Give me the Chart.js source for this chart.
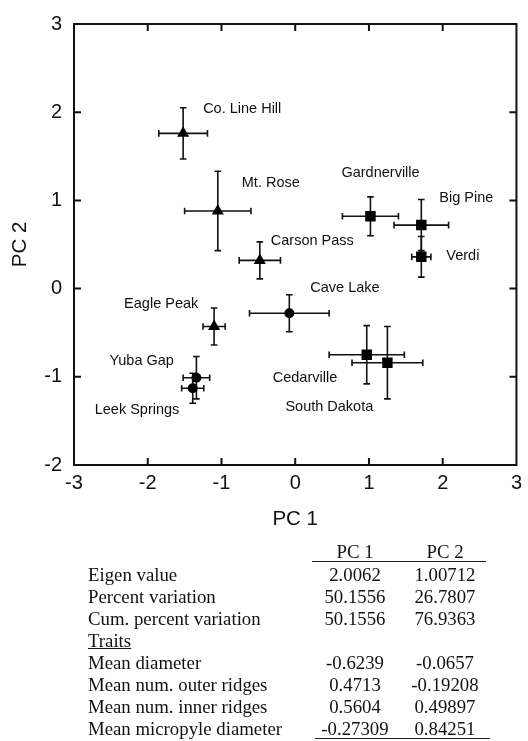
<!DOCTYPE html>
<html>
<head>
<meta charset="utf-8">
<script src="https://cdn.jsdelivr.net/npm/chart.js@4.4.1/dist/chart.umd.min.js"></script>
<style>
  html, body { margin: 0; padding: 0; background: #fff; }
  #page { position: relative; width: 528px; height: 741px; overflow: hidden; }
  #plot { position: absolute; left: 0; top: 0; }
  .row { position: absolute; left: 0; width: 528px; height: 22px; line-height: 22px;
         font-family: "Liberation Serif", "Times New Roman", serif; font-size: 18.8px; color: #111; }
  .row span { position: absolute; top: 0; white-space: nowrap; }
  .name { left: 88px; }
  .c1 { left: 305px; width: 100px; text-align: center; }
  .c2 { left: 395px; width: 100px; text-align: center; }
  .rule { position: absolute; height: 0; border-top: 1px solid #222; }
</style>
</head>
<body>
<div id="page">
  <canvas id="plot" width="528" height="545"></canvas>
  <div id="table"></div>
</div>
<script>
// Участки (популяции) и их координаты на главных компонентах
const sites = ["Co. Line Hill", "Mt. Rose", "Carson Pass", "Eagle Peak",
  "Gardnerville", "Big Pine", "Verdi", "Cedarville", "South Dakota",
  "Cave Lake", "Yuba Gap", "Leek Springs"];
const siteGroup = ["A", "A", "A", "A", "B", "B", "B", "B", "B", "C", "C", "C"];
const pc1 = [-1.52, -1.05, -0.48, -1.10, 1.02, 1.71, 1.71, 0.97, 1.25, -0.08, -1.34, -1.39];
const pc2 = [1.76, 0.88, 0.32, -0.43, 0.82, 0.72, 0.36, -0.75, -0.84, -0.28, -1.01, -1.13];
const pc1Err = [0.33, 0.45, 0.28, 0.15, 0.38, 0.37, 0.13, 0.51, 0.48, 0.54, 0.18, 0.15];
const pc2Err = [0.29, 0.45, 0.21, 0.21, 0.22, 0.29, 0.23, 0.33, 0.41, 0.21, 0.24, 0.17];

// Деления осей
const xTicks = [-3, -2, -1, 0, 1, 2, 3];
const yTicks = [-2, -1, 0, 1, 2, 3];

// Таблица собственных значений и нагрузок
const statNames = ["Eigen value", "Percent variation", "Cum. percent variation"];
const statPc1 = ["2.0062", "50.1556", "50.1556"];
const statPc2 = ["1.00712", "26.7807", "76.9363"];
const traitNames = ["Mean diameter", "Mean num. outer ridges", "Mean num. inner ridges", "Mean micropyle diameter"];
const traitPc1 = ["-0.6239", "0.4713", "0.5604", "-0.27309"];
const traitPc2 = ["-0.0657", "-0.19208", "0.49897", "0.84251"];

// Смещение подписей от маркера, в пикселях (левый край, середина строки)
const labelOffsets = {
  "Co. Line Hill": [20, -24], "Mt. Rose": [24, -28], "Gardnerville": [-29, -43],
  "Big Pine": [18, -27], "Carson Pass": [11, -19], "Verdi": [25, -1],
  "Cave Lake": [21, -25], "Eagle Peak": [-90, -23], "Yuba Gap": [-87, -17],
  "Leek Springs": [-98, 22], "Cedarville": [-94, 23], "South Dakota": [-102, 44]
};

const groupStyle = {
  A: { pointStyle: "triangle", radius: 7 },
  B: { pointStyle: "rect", radius: 7.4 },
  C: { pointStyle: "circle", radius: 5 }
};

function buildDatasets() {
  return Object.keys(groupStyle).map(function (g) {
    const pts = [];
    sites.forEach(function (s, i) {
      if (siteGroup[i] === g) pts.push({ x: pc1[i], y: pc2[i], site: s, ex: pc1Err[i], ey: pc2Err[i] });
    });
    return {
      label: g,
      data: pts,
      pointStyle: groupStyle[g].pointStyle,
      pointRadius: groupStyle[g].radius,
      backgroundColor: "#000",
      borderColor: "#000",
      borderWidth: 0,
      showLine: false
    };
  });
}

// Планки погрешностей
const errorBars = {
  id: "errorBars",
  beforeDatasetsDraw(chart) {
    const ctx = chart.ctx, xs = chart.scales.x, ys = chart.scales.y;
    ctx.save();
    ctx.strokeStyle = "#111";
    ctx.lineWidth = 1.6;
    const cap = 3.3;
    chart.data.datasets.forEach(function (ds) {
      ds.data.forEach(function (p) {
        const x0 = xs.getPixelForValue(p.x - p.ex), x1 = xs.getPixelForValue(p.x + p.ex);
        const y0 = ys.getPixelForValue(p.y - p.ey), y1 = ys.getPixelForValue(p.y + p.ey);
        const cx = xs.getPixelForValue(p.x), cy = ys.getPixelForValue(p.y);
        ctx.beginPath();
        ctx.moveTo(x0, cy); ctx.lineTo(x1, cy);
        ctx.moveTo(x0, cy - cap); ctx.lineTo(x0, cy + cap);
        ctx.moveTo(x1, cy - cap); ctx.lineTo(x1, cy + cap);
        ctx.moveTo(cx, y0); ctx.lineTo(cx, y1);
        ctx.moveTo(cx - cap, y0); ctx.lineTo(cx + cap, y0);
        ctx.moveTo(cx - cap, y1); ctx.lineTo(cx + cap, y1);
        ctx.stroke();
      });
    });
    ctx.restore();
  }
};

// Рамка с внутренними делениями и подписи точек
const frameAndLabels = {
  id: "frameAndLabels",
  afterDraw(chart) {
    const ctx = chart.ctx, a = chart.chartArea, xs = chart.scales.x, ys = chart.scales.y;
    const t = 7;
    ctx.save();
    ctx.strokeStyle = "#111";
    ctx.lineWidth = 2;
    ctx.strokeRect(a.left, a.top, a.right - a.left, a.bottom - a.top);
    ctx.beginPath();
    xTicks.slice(1, -1).forEach(function (v) {
      const px = xs.getPixelForValue(v);
      ctx.moveTo(px, a.bottom); ctx.lineTo(px, a.bottom - t);
      ctx.moveTo(px, a.top); ctx.lineTo(px, a.top + t);
    });
    yTicks.slice(1, -1).forEach(function (v) {
      const py = ys.getPixelForValue(v);
      ctx.moveTo(a.left, py); ctx.lineTo(a.left + t, py);
      ctx.moveTo(a.right, py); ctx.lineTo(a.right - t, py);
    });
    ctx.stroke();

    ctx.fillStyle = "#111";
    ctx.font = '14.5px "Liberation Sans", Arial, sans-serif';
    ctx.textAlign = "left";
    ctx.textBaseline = "middle";
    sites.forEach(function (s, i) {
      const off = labelOffsets[s];
      ctx.fillText(s, xs.getPixelForValue(pc1[i]) + off[0], ys.getPixelForValue(pc2[i]) + off[1]);
    });
    ctx.restore();
  }
};

function buildTable() {
  const box = document.getElementById("table");
  let html = "";
  function row(y, name, v1, v2, extra) {
    html += '<div class="row" style="top:' + (y - 11) + 'px">' +
      '<span class="name"' + (extra || "") + '>' + name + '</span>' +
      '<span class="c1">' + v1 + '</span><span class="c2">' + v2 + '</span></div>';
  }
  row(552, "", "PC 1", "PC 2");
  html += '<div class="rule" style="left:312px;width:174px;top:561px"></div>';
  let y = 574.5;
  const step = 22.1;
  statNames.forEach(function (n, i) { row(y, n, statPc1[i], statPc2[i]); y += step; });
  row(y, "Traits", "", "", ' style="text-decoration:underline"'); y += step;
  traitNames.forEach(function (n, i) { row(y, n, traitPc1[i], traitPc2[i]); y += step; });
  html += '<div class="rule" style="left:315px;width:175px;top:738px"></div>';
  box.innerHTML = html;
}

document.addEventListener("DOMContentLoaded", function () {
  const ctx = document.getElementById("plot").getContext("2d");
  new Chart(ctx, {
    type: "scatter",
    data: { datasets: buildDatasets() },
    options: {
      responsive: false,
      animation: false,
      devicePixelRatio: 1,
      layout: { padding: { top: 17, right: 11, left: 0, bottom: 0 } },
      plugins: { legend: { display: false }, tooltip: { enabled: false } },
      scales: {
        x: {
          type: "linear",
          min: xTicks[0],
          max: xTicks[xTicks.length - 1],
          afterFit: function (s) { s.height = 80; },
          afterBuildTicks: function (s) { s.ticks = xTicks.map(function (v) { return { value: v }; }); },
          grid: { display: false, drawTicks: false },
          border: { display: false },
          ticks: { color: "#111", padding: 6, font: { family: "Liberation Sans", size: 20 } },
          title: { display: true, text: "PC 1", color: "#111", padding: { top: 0, bottom: 13 },
                   font: { family: "Liberation Sans", size: 20.5 } }
        },
        y: {
          type: "linear",
          min: yTicks[0],
          max: yTicks[yTicks.length - 1],
          afterFit: function (s) { s.width = 74; },
          afterBuildTicks: function (s) { s.ticks = yTicks.map(function (v) { return { value: v }; }); },
          grid: { display: false, drawTicks: false },
          border: { display: false },
          ticks: { color: "#111", padding: 12, font: { family: "Liberation Sans", size: 20 } },
          title: { display: true, text: "PC 2", color: "#111", padding: { top: 8, bottom: 0 },
                   font: { family: "Liberation Sans", size: 20.5 } }
        }
      }
    },
    plugins: [errorBars, frameAndLabels]
  });
  buildTable();
});
</script>
</body>
</html>
